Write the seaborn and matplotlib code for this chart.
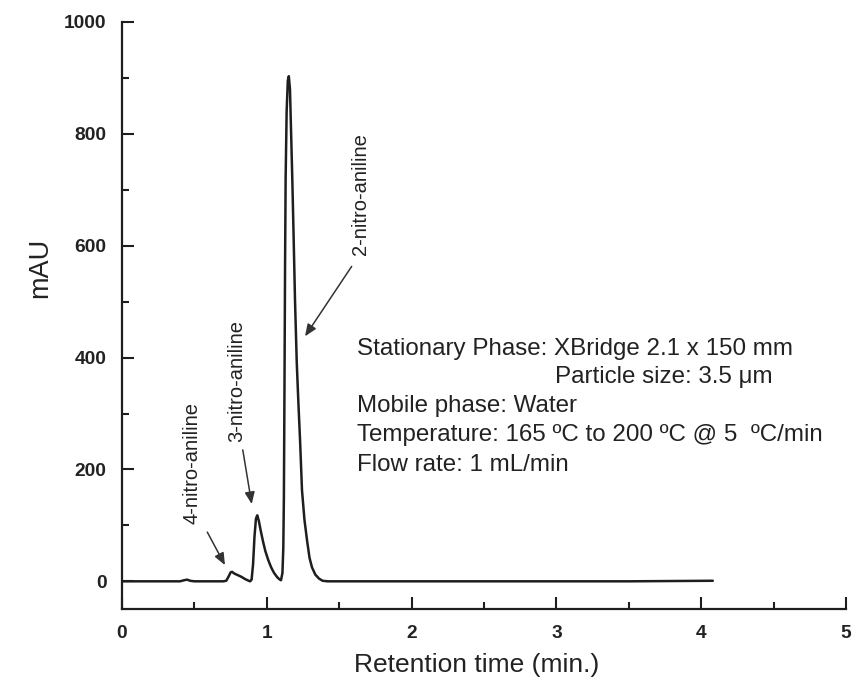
import matplotlib
matplotlib.use("Agg")
import matplotlib.pyplot as plt
from matplotlib.ticker import MultipleLocator
import seaborn as sns
import pandas as pd

# Chromatogram trace (retention time in min, absorbance in mAU)
time_min = [0.00, 0.20, 0.40, 0.43, 0.45, 0.47, 0.50, 0.60, 0.70, 0.72, 0.735,
            0.75, 0.76, 0.775, 0.80, 0.825, 0.85, 0.875, 0.885, 0.895, 0.905,
            0.915, 0.925, 0.934, 0.945, 0.96, 0.975, 0.99, 1.01, 1.03, 1.05,
            1.07, 1.085, 1.098, 1.108, 1.114, 1.118, 1.122, 1.126, 1.130, 1.137,
            1.145, 1.152, 1.160, 1.168, 1.176, 1.184, 1.195, 1.207, 1.218, 1.230,
            1.243, 1.260, 1.278, 1.295, 1.312, 1.335, 1.360, 1.385, 1.420, 1.60,
            2.00, 2.50, 3.00, 3.50, 4.08]
mau = [0, 0, 0, 2, 3, 1, 0, 0, 0, 1, 8,
       16, 17, 14, 11, 8, 4, 1, 0, 3, 30,
       80, 112, 118, 108, 88, 70, 54, 38, 25, 15,
       8, 4, 2, 15, 60, 150, 342, 560, 720, 840,
       895, 903, 880, 800, 720, 630, 500, 390, 320, 250,
       163, 110, 73, 42, 25, 12, 5, 1, 0, 0,
       0, 0, 0, 0, 1]

# Peak labels: name, label position (t, mAU), arrow tail, arrow head
peak_names = ["4-nitro-aniline", "3-nitro-aniline", "2-nitro-aniline"]
label_x = [0.481, 0.792, 1.644]
label_y = [211, 358, 692]
arrow_tail_x = [0.589, 0.834, 1.586]
arrow_tail_y = [88, 235, 563]
arrow_head_x = [0.711, 0.896, 1.264]
arrow_head_y = [29, 138, 438]

info_lines = ["Stationary Phase: XBridge 2.1 x 150 mm",
              "Particle size: 3.5 \u03bcm",
              "Mobile phase: Water",
              "Temperature: 165 \u00baC to 200 \u00baC @ 5  \u00baC/min",
              "Flow rate: 1 mL/min"]
info_x = [1.625, 2.99, 1.625, 1.625, 1.625]
info_y = [415, 365, 313, 262, 208]

x_ticks = [0, 1, 2, 3, 4, 5]
y_ticks = [0, 200, 400, 600, 800, 1000]

sns.set_theme(style="ticks")
plt.rcParams["font.family"] = ["Liberation Sans", "DejaVu Sans"]

fig = plt.figure(figsize=(8.58, 6.93), dpi=100)
ax = fig.add_axes([0.1422, 0.1208, 0.8438, 0.8475])

df = pd.DataFrame({"t": time_min, "mAU": mau})
sns.lineplot(data=df, x="t", y="mAU", ax=ax, color="#1e1e1e", lw=1.8,
             sort=False, estimator=None)

ax.set_xlim(0, 5)
ax.set_ylim(-50, 1000)
ax.set_xticks(x_ticks)
ax.set_yticks(y_ticks)
ax.xaxis.set_minor_locator(MultipleLocator(0.5))
ax.yaxis.set_minor_locator(MultipleLocator(100))
for s in ["top", "right"]:
    ax.spines[s].set_visible(False)
for s in ["left", "bottom"]:
    ax.spines[s].set_linewidth(1.6)
    ax.spines[s].set_color("#1e1e1e")
ax.tick_params(which="major", direction="in", length=8.6, width=1.5,
               color="#1e1e1e", labelsize=13.8, pad=11)
ax.tick_params(which="minor", direction="in", length=4.7, width=1.5,
               color="#1e1e1e")
for lab in ax.get_xticklabels() + ax.get_yticklabels():
    lab.set_fontweight("bold")
    lab.set_color("#222222")

ax.set_xlabel("Retention time (min.)", fontsize=19, color="#222222")
ax.set_ylabel("mAU", fontsize=19.5, color="#222222")
ax.xaxis.set_label_coords(0.49, -0.095)
ax.yaxis.set_label_coords(-0.113, 0.581)
ax.xaxis.label.set_va("center")
ax.yaxis.label.set_va("center")

for name, lx, ly, tx, ty, hx, hy in zip(peak_names, label_x, label_y,
                                         arrow_tail_x, arrow_tail_y,
                                         arrow_head_x, arrow_head_y):
    ax.text(lx, ly, name, rotation=90, ha="center", va="center",
            fontsize=14.5, color="#222222")
    ax.annotate("", xy=(hx, hy), xytext=(tx, ty),
                arrowprops=dict(arrowstyle="-|>,head_length=0.6,head_width=0.25",
                                color="#333333", lw=1.1, shrinkA=0, shrinkB=0))

for txt, ix, iy in zip(info_lines, info_x, info_y):
    ax.text(ix, iy, txt, ha="left", va="center", fontsize=17.4, color="#222222")

fig.savefig("out.png", dpi=100, facecolor="white")
